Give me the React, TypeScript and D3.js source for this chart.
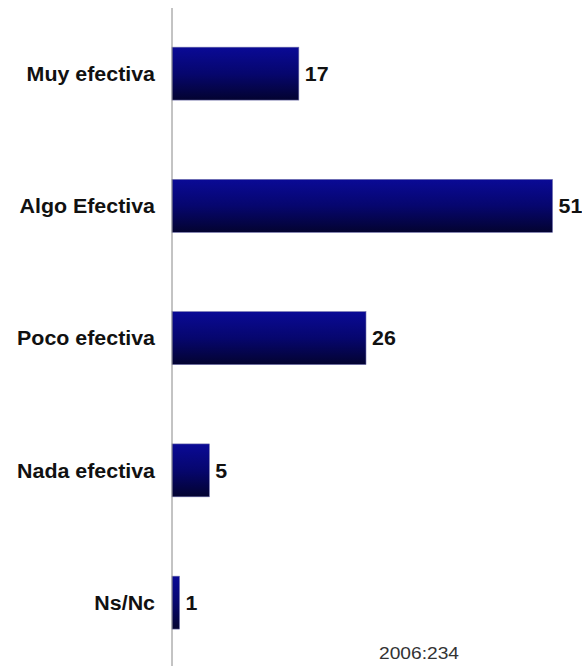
import React from "react";
import * as d3 from "d3";

const categories = ["Muy efectiva", "Algo Efectiva", "Poco efectiva", "Nada efectiva", "Ns/Nc"];
const values = [17, 51, 26, 5, 1];
const footnote = "2006:234";

export default function App() {
  const W = 582, H = 666;
  const x0 = 172;
  const x = d3.scaleLinear().domain([0, 51]).range([x0, 552.5]);
  const y = d3.scaleBand<string>().domain(categories).range([7.5, 668.75]).paddingInner(0.6).paddingOuter(0.3);
  const font = "Liberation Sans, Arial, sans-serif";
  const sx = 1.07;
  return (
    <svg width={W} height={H} style={{ position: "absolute", left: 0, top: 0 }}>
      <defs>
        <linearGradient id="bg" x1="0" y1="0" x2="0" y2="1">
          <stop offset="0%" stopColor="#0a0a96" />
          <stop offset="50%" stopColor="#06066e" />
          <stop offset="100%" stopColor="#030330" />
        </linearGradient>
      </defs>
      <rect width={W} height={H} fill="#fff" />
      {categories.map((c, i) => {
        const cy = y(c)! + y.bandwidth() / 2;
        const vx = x(values[i]) + 6;
        return (
          <g key={c}>
            <rect x={x0} y={y(c)!} width={x(values[i]) - x0} height={y.bandwidth()} fill="url(#bg)" stroke="#6a6aa8" strokeWidth={0.6} />
            <g transform={`translate(155,${cy}) scale(${sx},1)`}>
              <text x={0} y={0} textAnchor="end" dominantBaseline="central" fontFamily={font} fontWeight="bold" fontSize={20} fill="#111">{c}</text>
            </g>
            <g transform={`translate(${vx},${cy}) scale(${sx},1)`}>
              <text x={0} y={0} dominantBaseline="central" fontFamily={font} fontWeight="bold" fontSize={20} fill="#111">{values[i]}</text>
            </g>
          </g>
        );
      })}
      <line x1={x0} x2={x0} y1={8} y2={H} stroke="#888" strokeWidth={1} />
      <g transform={`translate(379,658.5) scale(1.2,1)`}>
        <text x={0} y={0} fontFamily={font} fontSize={16} fill="#333">{footnote}</text>
      </g>
    </svg>
  );
}
